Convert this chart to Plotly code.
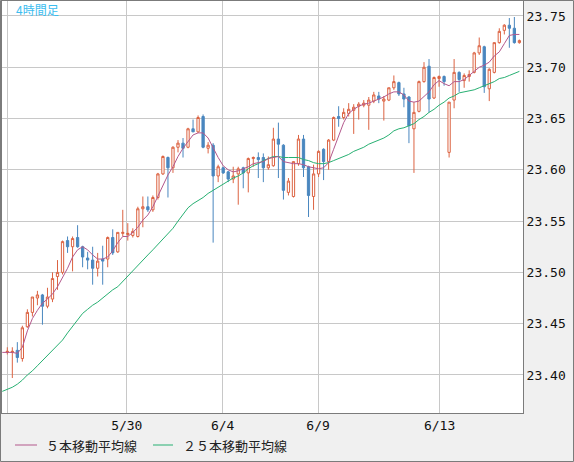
import plotly.graph_objects as go

# ---- data (4-hour candles) ----
opens = [23.422, 23.422, 23.424, 23.416, 23.447, 23.461, 23.475, 23.478, 23.467, 23.474,
         23.496, 23.500, 23.531, 23.525, 23.534, 23.525, 23.514, 23.512, 23.504, 23.513,
         23.513, 23.534, 23.520, 23.538, 23.537, 23.536, 23.535, 23.562, 23.564, 23.561,
         23.573, 23.596, 23.612, 23.602, 23.622, 23.626, 23.622, 23.640, 23.637, 23.652,
         23.621, 23.624, 23.594, 23.602, 23.598, 23.591, 23.596, 23.602, 23.597, 23.611,
         23.612, 23.612, 23.602, 23.604, 23.630, 23.624, 23.578, 23.574, 23.606, 23.630,
         23.603, 23.574, 23.596, 23.620, 23.608, 23.629, 23.652, 23.651, 23.655, 23.658,
         23.662, 23.663, 23.663, 23.667, 23.672, 23.667, 23.668, 23.680, 23.685, 23.674,
         23.671, 23.640, 23.657, 23.686, 23.701, 23.670, 23.689, 23.691, 23.617, 23.668,
         23.695, 23.687, 23.691, 23.695, 23.714, 23.720, 23.679, 23.695, 23.724, 23.736,
         23.741, 23.738, 23.724]
highs = [23.427, 23.427, 23.432, 23.448, 23.464, 23.476, 23.482, 23.479, 23.485, 23.500,
         23.512, 23.531, 23.535, 23.535, 23.546, 23.526, 23.520, 23.525, 23.519, 23.526,
         23.535, 23.542, 23.539, 23.561, 23.548, 23.543, 23.564, 23.574, 23.574, 23.575,
         23.597, 23.614, 23.613, 23.623, 23.629, 23.631, 23.641, 23.649, 23.653, 23.654,
         23.627, 23.626, 23.605, 23.603, 23.599, 23.603, 23.603, 23.603, 23.612, 23.613,
         23.617, 23.616, 23.613, 23.641, 23.646, 23.625, 23.592, 23.608, 23.634, 23.634,
         23.604, 23.605, 23.619, 23.621, 23.630, 23.652, 23.662, 23.660, 23.665, 23.664,
         23.666, 23.668, 23.671, 23.676, 23.676, 23.672, 23.680, 23.692, 23.686, 23.680,
         23.672, 23.666, 23.687, 23.705, 23.708, 23.691, 23.692, 23.692, 23.666, 23.708,
         23.696, 23.694, 23.697, 23.715, 23.729, 23.721, 23.699, 23.724, 23.738, 23.742,
         23.748, 23.749, 23.727]
lows = [23.420, 23.397, 23.412, 23.413, 23.446, 23.457, 23.468, 23.449, 23.465, 23.471,
        23.483, 23.498, 23.519, 23.501, 23.524, 23.505, 23.503, 23.488, 23.496, 23.488,
        23.505, 23.517, 23.519, 23.535, 23.531, 23.534, 23.534, 23.544, 23.559, 23.559,
        23.571, 23.595, 23.573, 23.597, 23.617, 23.612, 23.621, 23.637, 23.636, 23.621,
        23.616, 23.529, 23.588, 23.596, 23.588, 23.587, 23.566, 23.582, 23.578, 23.603,
        23.592, 23.588, 23.600, 23.603, 23.592, 23.571, 23.575, 23.573, 23.604, 23.593,
        23.554, 23.561, 23.593, 23.590, 23.600, 23.628, 23.642, 23.649, 23.652, 23.635,
        23.649, 23.661, 23.639, 23.665, 23.665, 23.648, 23.667, 23.678, 23.672, 23.661,
        23.626, 23.597, 23.656, 23.685, 23.656, 23.669, 23.681, 23.682, 23.612, 23.660,
        23.676, 23.680, 23.686, 23.694, 23.712, 23.675, 23.667, 23.694, 23.723, 23.732,
        23.719, 23.723, 23.723]
closes = [23.423, 23.423, 23.417, 23.446, 23.461, 23.476, 23.478, 23.467, 23.476, 23.494,
          23.500, 23.530, 23.525, 23.533, 23.525, 23.515, 23.512, 23.504, 23.511, 23.511,
          23.534, 23.519, 23.539, 23.539, 23.538, 23.540, 23.562, 23.564, 23.561, 23.573,
          23.596, 23.613, 23.602, 23.622, 23.626, 23.621, 23.640, 23.637, 23.651, 23.622,
          23.624, 23.594, 23.603, 23.597, 23.591, 23.594, 23.601, 23.597, 23.611, 23.612,
          23.610, 23.602, 23.605, 23.630, 23.625, 23.580, 23.589, 23.608, 23.630, 23.602,
          23.575, 23.596, 23.618, 23.608, 23.629, 23.651, 23.650, 23.656, 23.659, 23.661,
          23.664, 23.665, 23.668, 23.673, 23.669, 23.669, 23.680, 23.686, 23.674, 23.669,
          23.643, 23.656, 23.686, 23.700, 23.669, 23.690, 23.691, 23.686, 23.666, 23.695,
          23.688, 23.692, 23.693, 23.714, 23.721, 23.681, 23.698, 23.724, 23.735, 23.741,
          23.738, 23.724, 23.726]

# moving averages as drawn (first point lies one bar before the first visible candle)
ma5 = [23.422, 23.422, 23.422, 23.421, 23.427, 23.443, 23.455, 23.463, 23.470, 23.474,
       23.479, 23.486, 23.495, 23.504, 23.515, 23.522, 23.525, 23.522, 23.517, 23.513,
       23.513, 23.515, 23.521, 23.529, 23.535, 23.535, 23.539, 23.544, 23.551, 23.556,
       23.564, 23.574, 23.585, 23.595, 23.603, 23.613, 23.621, 23.628, 23.634, 23.636,
       23.636, 23.631, 23.621, 23.612, 23.604, 23.600, 23.598, 23.599, 23.601, 23.603,
       23.606, 23.607, 23.608, 23.611, 23.612, 23.613, 23.608, 23.607, 23.606, 23.606,
       23.605, 23.603, 23.602, 23.601, 23.602, 23.607, 23.620, 23.633, 23.646, 23.655,
       23.659, 23.662, 23.664, 23.665, 23.667, 23.669, 23.671, 23.674, 23.676, 23.676,
       23.673, 23.667, 23.666, 23.667, 23.672, 23.676, 23.683, 23.687, 23.684, 23.682,
       23.686, 23.686, 23.688, 23.692, 23.696, 23.700, 23.702, 23.705, 23.711, 23.715,
       23.723, 23.731, 23.732, 23.732]
ma25 = [23.384, 23.386, 23.388, 23.391, 23.395, 23.400, 23.404, 23.409, 23.414, 23.419,
        23.423, 23.428, 23.434, 23.441, 23.447, 23.454, 23.460, 23.464, 23.468, 23.471,
        23.475, 23.479, 23.483, 23.486, 23.491, 23.497, 23.502, 23.507, 23.512, 23.517,
        23.522, 23.527, 23.532, 23.537, 23.543, 23.550, 23.557, 23.563, 23.567, 23.570,
        23.573, 23.577, 23.580, 23.583, 23.586, 23.589, 23.592, 23.594, 23.597, 23.601,
        23.604, 23.606, 23.609, 23.611, 23.613, 23.613, 23.612, 23.612, 23.612, 23.612,
        23.610, 23.609, 23.607, 23.606, 23.606, 23.607, 23.609, 23.611, 23.613, 23.615,
        23.618, 23.620, 23.622, 23.625, 23.627, 23.629, 23.631, 23.634, 23.638, 23.640,
        23.641, 23.643, 23.645, 23.649, 23.652, 23.656, 23.659, 23.663, 23.666, 23.670,
        23.672, 23.675, 23.676, 23.677, 23.678, 23.680, 23.682, 23.684, 23.686, 23.689,
        23.690, 23.692, 23.694, 23.696]

tick_pos = [0, 23.8, 42.9, 61.9, 86.1]
tick_text = ["", "5/30", "6/4", "6/9", "6/13"]
y_ticks = [23.40, 23.45, 23.50, 23.55, 23.60, 23.65, 23.70, 23.75]
title_text = "4時間足"
legend_names = ["５本移動平均線", "２５本移動平均線"]

# ---- style ----
W, H = 574, 462
ML, MR, MT, MB = 2, 51, 1, 49
PW, PH = W - ML - MR, H - MT - MB
UP = "#dc6342"
DOWN = "#4a87bf"
MA5_C = "#b3588c"
MA25_C = "#27b072"
GRID = "#c8c8c8"
FRAME = "#7b7b7b"


def px(xp):
    return (xp - ML) / PW


def py(yp):
    return (MT + PH - yp) / PH


idx = list(range(len(opens)))
ma_idx = list(range(-1, len(opens)))

fig = go.Figure()
fig.add_trace(go.Candlestick(
    x=idx, open=opens, high=highs, low=lows, close=closes,
    increasing=dict(line=dict(color=UP, width=1), fillcolor="white"),
    decreasing=dict(line=dict(color=DOWN, width=1), fillcolor=DOWN),
    whiskerwidth=0, hoverinfo="skip", showlegend=False,
))
fig.add_trace(go.Scatter(x=ma_idx, y=ma25, mode="lines",
                         line=dict(color=MA25_C, width=1), hoverinfo="skip", showlegend=False))
fig.add_trace(go.Scatter(x=ma_idx, y=ma5, mode="lines",
                         line=dict(color=MA5_C, width=1), hoverinfo="skip", showlegend=False))

shapes = [
    # outer frame of the whole picture
    dict(type="rect", xref="paper", yref="paper",
         x0=px(0.5), x1=px(W - 0.5), y0=py(H - 0.5), y1=py(0.5),
         line=dict(color=FRAME, width=1), layer="below"),
    # legend samples
    dict(type="line", xref="paper", yref="paper", x0=px(15), x1=px(37), y0=py(445), y1=py(445),
         line=dict(color=MA5_C, width=1)),
    dict(type="line", xref="paper", yref="paper", x0=px(153), x1=px(173), y0=py(445), y1=py(445),
         line=dict(color=MA25_C, width=1)),
]

font_jp = "Noto Sans CJK JP"
annotations = [
    dict(text=title_text, xref="paper", yref="paper", x=px(14), y=py(10),
         xanchor="left", yanchor="middle", showarrow=False,
         font=dict(family=font_jp, size=12, color="#3bbdf0")),
    dict(text=legend_names[0], xref="paper", yref="paper", x=px(44), y=py(445),
         xanchor="left", yanchor="middle", showarrow=False,
         font=dict(family=font_jp, size=13, color="#222222")),
    dict(text=legend_names[1], xref="paper", yref="paper", x=px(181), y=py(445),
         xanchor="left", yanchor="middle", showarrow=False,
         font=dict(family=font_jp, size=13, color="#222222")),
]

fig.update_layout(
    width=W, height=H,
    margin=dict(l=ML, r=MR, t=MT, b=MB, pad=0),
    paper_bgcolor="#f0f0f0", plot_bgcolor="white",
    showlegend=False,
    shapes=shapes, annotations=annotations,
    boxgap=0.35,
    xaxis=dict(
        range=[-1.056, 102.72], rangeslider=dict(visible=False),
        tickmode="array", tickvals=tick_pos, ticktext=tick_text,
        showgrid=True, gridcolor=GRID, gridwidth=1, zeroline=False,
        showline=True, linecolor=FRAME, linewidth=1, mirror=True,
        ticks="", tickfont=dict(family="DejaVu Sans Mono", size=13, color="#111111"),
        fixedrange=True,
    ),
    yaxis=dict(
        range=[23.3629, 23.7646], side="right",
        tickmode="array", tickvals=y_ticks, ticktext=[f"{v:.2f}" for v in y_ticks],
        showgrid=True, gridcolor=GRID, gridwidth=1, zeroline=False,
        showline=True, linecolor=FRAME, linewidth=1, mirror=True,
        ticks="", tickfont=dict(family="DejaVu Sans Mono", size=13, color="#111111"),
        fixedrange=True,
    ),
)

fig.write_html("out.html", config={"displayModeBar": False})
